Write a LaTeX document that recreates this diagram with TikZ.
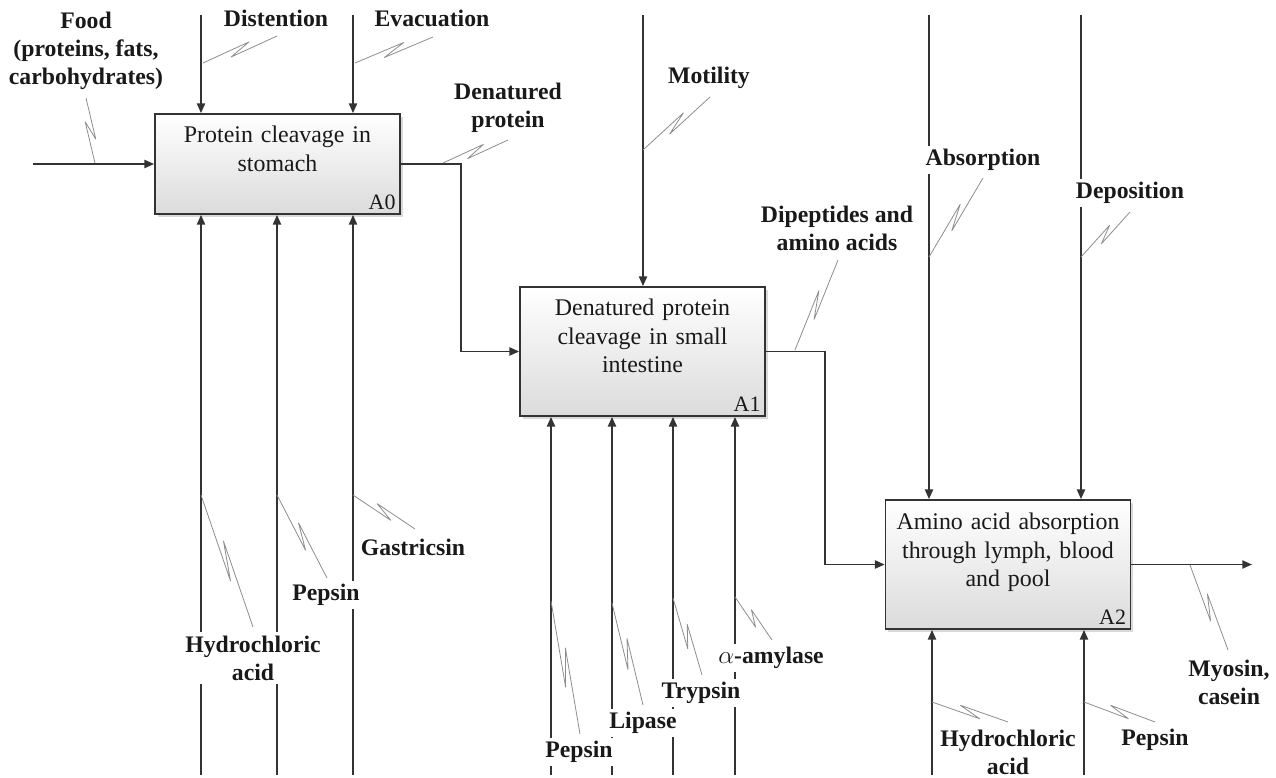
\documentclass[tikz,border=0pt]{standalone}
\usepackage{fontspec}
\setmainfont{Liberation Serif}
\usetikzlibrary{arrows.meta,calc,positioning,shadows}
\tikzset{
  box/.style={draw=black!80,line width=1pt,top color=white,bottom color=black!14,minimum width=4.9cm,
    drop shadow={shadow xshift=1.5pt,shadow yshift=-1.5pt,opacity=.3}},
  boxtxt/.style={text width=4.7cm,align=center,inner sep=0pt,text=black!90,font=\fontsize{13.6}{16.2}\selectfont},
  code/.style={anchor=south east,inner sep=2.5pt,text=black!90,font=\fontsize{12.5}{14}\selectfont},
  lbl/.style={fill=white,inner xsep=1pt,inner ysep=2pt,align=center,text=black!90,font=\bfseries\fontsize{13.5}{16}\selectfont},
  squig/.style={draw=black!45,line width=.45pt,line join=round},
}
\newcommand{\squig}[3]{\draw[squig] #2 -- ($#2!.64!#3!2.3pt!#1:#3$) -- ($#2!.36!#3!-2.3pt!#1:#3$) -- #3;}
\begin{document}
\begin{tikzpicture}[x=.02cm,y=-.02cm,>={Triangle[length=5.5pt,width=4.6pt]},line width=1pt,color=black!80]
\useasboundingbox (0,0) rectangle (1276,778);

\node[box,minimum height=2cm] (a0) at (277.5,164) {};
\node[boxtxt,below=.24cm of a0.north] (a0t) {Protein cleavage in\\stomach};
\node[code] (a0c) at (a0.south east) {A0};
\node[box,minimum height=2.58cm] (a1) at (642.5,351.5) {};
\node[boxtxt,below=.24cm of a1.north] (a1t) {Denatured protein\\cleavage in small\\intestine};
\node[code] (a1c) at (a1.south east) {A1};
\node[box,minimum height=2.58cm] (a2) at (1008,564.5) {};
\node[boxtxt,below=.26cm of a2.north] (a2t) {Amino acid absorption\\through lymph, blood\\and pool};
\node[code] (a2c) at (a2.south east) {A2};

\coordinate (fin) at (33,164);
\coordinate (out) at (1252,564.5);
\foreach \n/\x in {tdist/201,tevac/353,tmot/643,tabs/929,tdep/1081}
  \coordinate (\n) at (\x,15);
\foreach \n/\x in {bhcl0/201,bpep0/277,bgas/353,bpep1/551,blip/612,btryp/673,bamyl/735,bhcl2/932,bpep2/1084}
  \coordinate (\n) at (\x,775);

\draw[->] (fin) -- (a0.west);
\foreach \n/\b in {tdist/a0,tevac/a0,tmot/a1,tabs/a2,tdep/a2}
  \draw[->] (\n) -- (\n |- \b.north);
\foreach \n/\b in {bhcl0/a0,bpep0/a0,bgas/a0,bpep1/a1,blip/a1,btryp/a1,bamyl/a1,bhcl2/a2,bpep2/a2}
  \draw[->] (\n) -- (\n |- \b.south);
\draw[->] (a0.east) -- ++(60,0) |- (a1.west);
\draw[->] (a1.east) -- ++(59,0) |- (a2.west);
\draw[->] (a2.east) -- (out);

\node[lbl] (food) at (86,51) {Food\\(proteins, fats,\\carbohydrates)};
\node[lbl] (dist) at (276,18) {Distention};
\node[lbl] (evac) at (432,18) {Evacuation};
\node[lbl] (den) at (508,108) {Denatured\\protein};
\node[lbl] (mot) at (709,78) {Motility};
\node[lbl] (dip) at (837,228) {Dipeptides and\\amino acids};
\node[lbl] (abs) at (983,160) {Absorption};
\node[lbl] (dep) at (1130,193) {Deposition};
\node[lbl] (hcl0) at (253,658) {Hydrochloric\\acid};
\node[lbl] (pep0) at (326,595) {Pepsin};
\node[lbl] (gas) at (413,547) {Gastricsin};
\node[lbl] (pep1) at (579,752) {Pepsin};
\node[lbl] (lip) at (643,723) {Lipase};
\node[lbl] (tryp) at (701,693) {Trypsin};
\node[lbl] (amyl) at (771,658) {$\alpha$-amylase};
\node[lbl] (myo) at (1229,682) {Myosin,\\casein};
\node[lbl] (hcl2) at (1008,752) {Hydrochloric\\acid};
\node[lbl] (pep2) at (1155,740) {Pepsin};

\squig{90}{(95,163)}{(86,98)}
\squig{90}{(203,63)}{(277,36)}
\squig{90}{(355,63)}{(433,37)}
\squig{90}{(443,163)}{(508,140)}
\squig{90}{(643,150)}{(710,97)}
\squig{90}{(795,350)}{(838,260)}
\squig{90}{(929,257)}{(983,178)}
\squig{90}{(1081,257)}{(1130,212)}
\squig{-90}{(201,495)}{(253,627)}
\squig{-90}{(277,495)}{(327,578)}
\squig{-90}{(353,495)}{(415,529)}
\squig{-90}{(551,601)}{(580,734)}
\squig{-90}{(612,603)}{(643,705)}
\squig{-90}{(673,598)}{(702,675)}
\squig{-90}{(735,597)}{(772,640)}
\squig{-90}{(1190,565)}{(1228,650)}
\squig{-90}{(932,702)}{(1008,722)}
\squig{-90}{(1084,702)}{(1155,722)}
\end{tikzpicture}
\end{document}
